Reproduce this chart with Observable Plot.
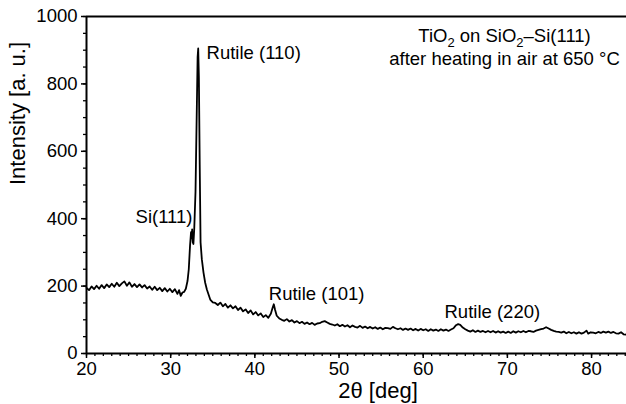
<!DOCTYPE html>
<html>
<head>
<meta charset="utf-8">
<script src="https://cdn.jsdelivr.net/npm/d3@7"></script>
<script src="https://cdn.jsdelivr.net/npm/@observablehq/plot@0.6"></script>
<style>
  html, body { margin: 0; padding: 0; background: #fff; }
  #chart { width: 626px; height: 404px; }
</style>
</head>
<body>
<div id="chart"></div>
<script>
// ---- data ----
const twoTheta = [
  20.0,20.3,20.6,20.9,21.2,21.5,21.8,22.1,22.4,22.7,23.0,23.3,23.6,23.9,24.2,24.5,24.8,25.1,25.4,25.7,
  26.0,26.3,26.6,26.9,27.2,27.5,27.8,28.1,28.4,28.7,29.0,29.3,29.6,29.9,30.2,30.5,30.8,31.0,31.2,31.4,
  31.6,31.8,32.0,32.15,32.3,32.42,32.5,32.55,32.62,32.7,32.8,32.95,33.1,33.2,33.27,33.35,33.45,33.55,33.7,33.9,
  34.1,34.3,34.5,34.7,35.0,35.3,35.6,35.9,36.2,36.5,36.8,37.1,37.4,37.7,38.0,38.3,38.6,38.9,39.2,39.5,
  39.8,40.1,40.4,40.7,41.0,41.3,41.6,41.9,42.1,42.25,42.4,42.6,42.9,43.2,43.5,43.8,44.1,44.4,44.7,45.0,
  45.3,45.6,45.9,46.2,46.5,46.8,47.1,47.4,47.7,48.0,48.3,48.6,48.9,49.2,49.5,49.8,50.1,50.4,50.7,51.0,
  51.3,51.6,51.9,52.2,52.5,52.8,53.1,53.4,53.7,54.0,54.3,54.6,54.9,55.2,55.5,55.8,56.1,56.4,56.7,57.0,
  57.3,57.6,57.9,58.2,58.5,58.8,59.1,59.4,59.7,60.0,60.3,60.6,60.9,61.2,61.5,61.8,62.1,62.4,62.7,63.0,
  63.3,63.6,63.9,64.15,64.4,64.7,65.0,65.3,65.6,65.9,66.2,66.5,66.8,67.1,67.4,67.7,68.0,68.3,68.6,68.9,
  69.2,69.5,69.8,70.1,70.4,70.7,71.0,71.3,71.6,71.9,72.2,72.5,72.8,73.1,73.4,73.7,74.0,74.3,74.6,74.9,
  75.2,75.5,75.8,76.1,76.4,76.7,77.0,77.3,77.6,77.9,78.2,78.5,78.8,79.1,79.4,79.6,79.9,80.2,80.5,80.8,
  81.1,81.4,81.7,82.0,82.3,82.6,82.9,83.2,83.5,83.8,84.1,84.2
];
const intensity = [
  195,188,199,191,201,192,203,194,205,197,207,198,210,200,208,214,201,211,198,206,
  197,205,196,203,193,199,189,198,188,195,185,194,184,192,182,191,177,188,171,181,
  183,192,215,250,320,360,342,368,330,325,370,480,720,880,905,820,560,330,280,240,
  210,190,175,160,152,150,144,151,140,147,136,143,134,140,129,136,125,131,120,128,
  116,123,113,119,108,114,106,118,135,146,130,112,104,100,97,102,95,99,92,96,
  90,94,88,92,87,91,85,89,90,94,96,92,88,86,83,87,81,85,80,84,
  78,83,79,77,82,76,80,75,79,74,78,73,77,72,76,75,73,79,75,72,
  75,70,74,70,74,69,73,68,73,69,72,67,72,68,71,67,72,68,71,67,
  71,75,84,87,85,77,72,68,65,69,64,68,64,67,63,67,63,67,62,66,
  62,65,61,65,61,66,62,66,63,67,63,67,66,64,68,70,72,74,78,74,
  70,67,65,64,62,65,60,64,60,63,59,63,59,62,68,59,63,62,60,64,
  61,65,62,65,61,64,60,59,63,57,56,59
];
const xDomain = [20, 84.15];
const yDomain = [0, 1000];
const xTicks = [20, 30, 40, 50, 60, 70, 80];
const yTicks = [0, 200, 400, 600, 800, 1000];
const xMinorStep = 1;
const yMinorStep = 50;

const peakLabels = ["Rutile (110)", "Si(111)", "Rutile (101)", "Rutile (220)"];
const peakLabelX = [34.26, 32.59, 41.66, 62.53];
const peakLabelY = [890, 406, 175, 124];
const peakLabelAnchor = ["start", "end", "start", "start"];

const titleLines = ["TiO2 on SiO2–Si(111)", "after heating in air at 650 °C"];
const titleX = [69.66, 69.66];
const titleY = [943, 875];

const xLabel = "2θ [deg]";
const yLabel = "Intensity [a. u.]";

// ---- tables ----
const spectrum = twoTheta.map((x, i) => ({x, y: intensity[i]}));
const peaks = peakLabels.map((t, i) => ({t, x: peakLabelX[i], y: peakLabelY[i], a: peakLabelAnchor[i]}));
const titles = titleLines.map((t, i) => ({t, x: titleX[i], y: titleY[i]}));
const xMinor = d3.range(xDomain[0], xDomain[1] + 1e-9, xMinorStep);
const yMinor = d3.range(yDomain[0], yDomain[1] + 1e-9, yMinorStep);

const font = "'Liberation Sans', Arial, Helvetica, sans-serif";

const chart = Plot.plot({
  width: 626,
  height: 404,
  marginLeft: 86,
  marginRight: 0,
  marginTop: 16,
  marginBottom: 51,
  style: {fontFamily: font, fontSize: "18.5px", color: "#000", background: "#fff", overflow: "visible"},
  x: {domain: xDomain},
  y: {domain: yDomain},
  marks: [
    Plot.axisY(yMinor, {tickSize: 3, tickFormat: () => "", label: null, strokeWidth: 1.3}),
    Plot.axisY(yTicks, {tickSize: 5, tickPadding: 4, tickFormat: d3.format("d"), label: null, strokeWidth: 1.5}),
    Plot.axisX(xMinor, {tickSize: 3, tickFormat: () => "", label: null, strokeWidth: 1.3}),
    Plot.axisX(xTicks, {tickSize: 5, tickPadding: 3, tickFormat: d3.format("d"), label: null, strokeWidth: 1.5}),
    Plot.ruleX([xDomain[0]], {stroke: "#000", strokeWidth: 2}),
    Plot.ruleY([yDomain[0]], {stroke: "#000", strokeWidth: 2}),
    Plot.ruleY([yDomain[1]], {stroke: "#000", strokeWidth: 2.2}),
    Plot.line(spectrum, {x: "x", y: "y", stroke: "#000", strokeWidth: 1.8, strokeLinejoin: "round"}),
    Plot.text(peaks.filter(d => d.a === "start"), {x: "x", y: "y", text: "t", textAnchor: "start", lineAnchor: "middle", fill: "#000", fontSize: 18.5}),
    Plot.text(peaks.filter(d => d.a === "end"), {x: "x", y: "y", text: "t", textAnchor: "end", lineAnchor: "middle", fill: "#000", fontSize: 18.5}),
    Plot.text(titles, {x: "x", y: "y", text: "t", textAnchor: "middle", lineAnchor: "middle", fill: "#000", fontSize: 18.5}),
    Plot.text([xLabel], {text: d => d, frameAnchor: "bottom", dx: 21.5, dy: 37, lineAnchor: "middle", fill: "#000", fontSize: 22}),
    Plot.text([yLabel], {text: d => d, frameAnchor: "left", rotate: -90, dx: -69, lineAnchor: "middle", fill: "#000", fontSize: 22})
  ]
});

// subscripts for the chemical formula
chart.querySelectorAll("text").forEach(el => {
  if (el.textContent === titleLines[0]) {
    const parts = [["TiO", 0], ["2", 1], [" on SiO", 0], ["2", 1], ["–Si(111)", 0]];
    while (el.firstChild) el.removeChild(el.firstChild);
    for (const [s, sub] of parts) {
      const ts = document.createElementNS("http://www.w3.org/2000/svg", "tspan");
      ts.textContent = s;
      if (sub) { ts.setAttribute("baseline-shift", "-5"); ts.setAttribute("font-size", "13"); }
      el.appendChild(ts);
    }
  }
});

document.getElementById("chart").appendChild(chart);
</script>
</body>
</html>
